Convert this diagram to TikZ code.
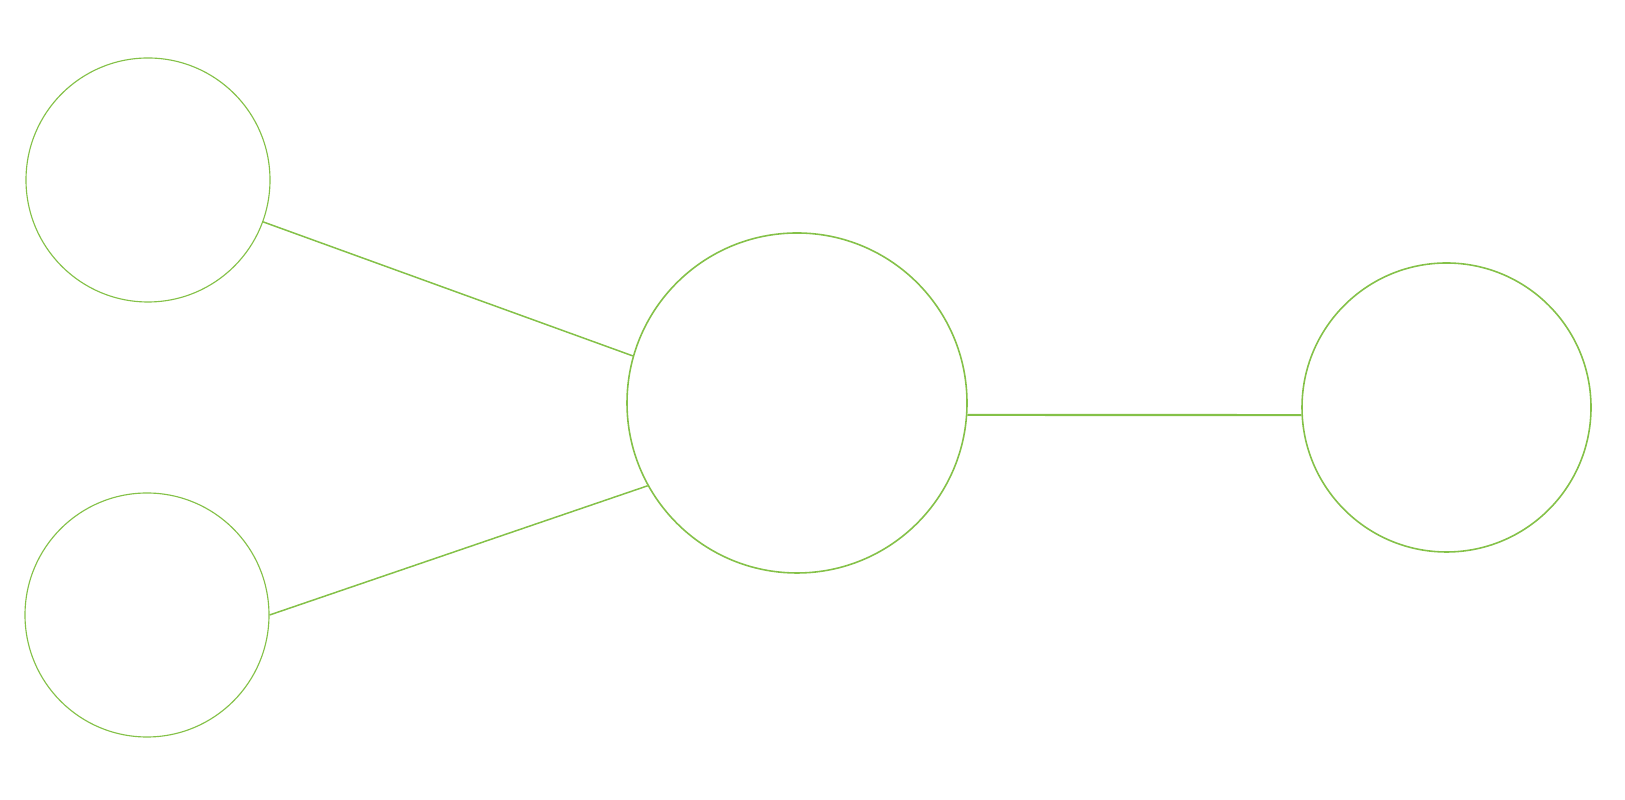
\documentclass[tikz,border=0pt]{standalone}
\usetikzlibrary{positioning}
\definecolor{leaf}{RGB}{132,193,72}

\begin{document}
\begin{tikzpicture}[ring/.style={draw=leaf, circle, inner sep=0pt, line width=0.65pt},
		link/.style={draw=leaf, line width=0.85pt}]
		\useasboundingbox (0,0) rectangle (32.5,16);
		\node[ring, minimum size=4.88cm] (top) at (2.96, 12.40) {};
		\node[ring, minimum size=4.88cm] (bottom) at (2.94, 3.70) {};
		\node[ring, minimum size=6.80cm, line width=0.9pt] (hub) at (15.94, 7.94) {};
		\node[ring, minimum size=5.78cm, line width=0.9pt] (far) at (28.93, 7.85) {};
		\draw[link] (top.-20.5) -- (hub.164.4);
		\draw[link] (bottom.0) -- (hub.-151);
		\draw[link, line width=1.2pt] (hub.-4.4) -- (far.183.4);
	\end{tikzpicture}
\end{document}
